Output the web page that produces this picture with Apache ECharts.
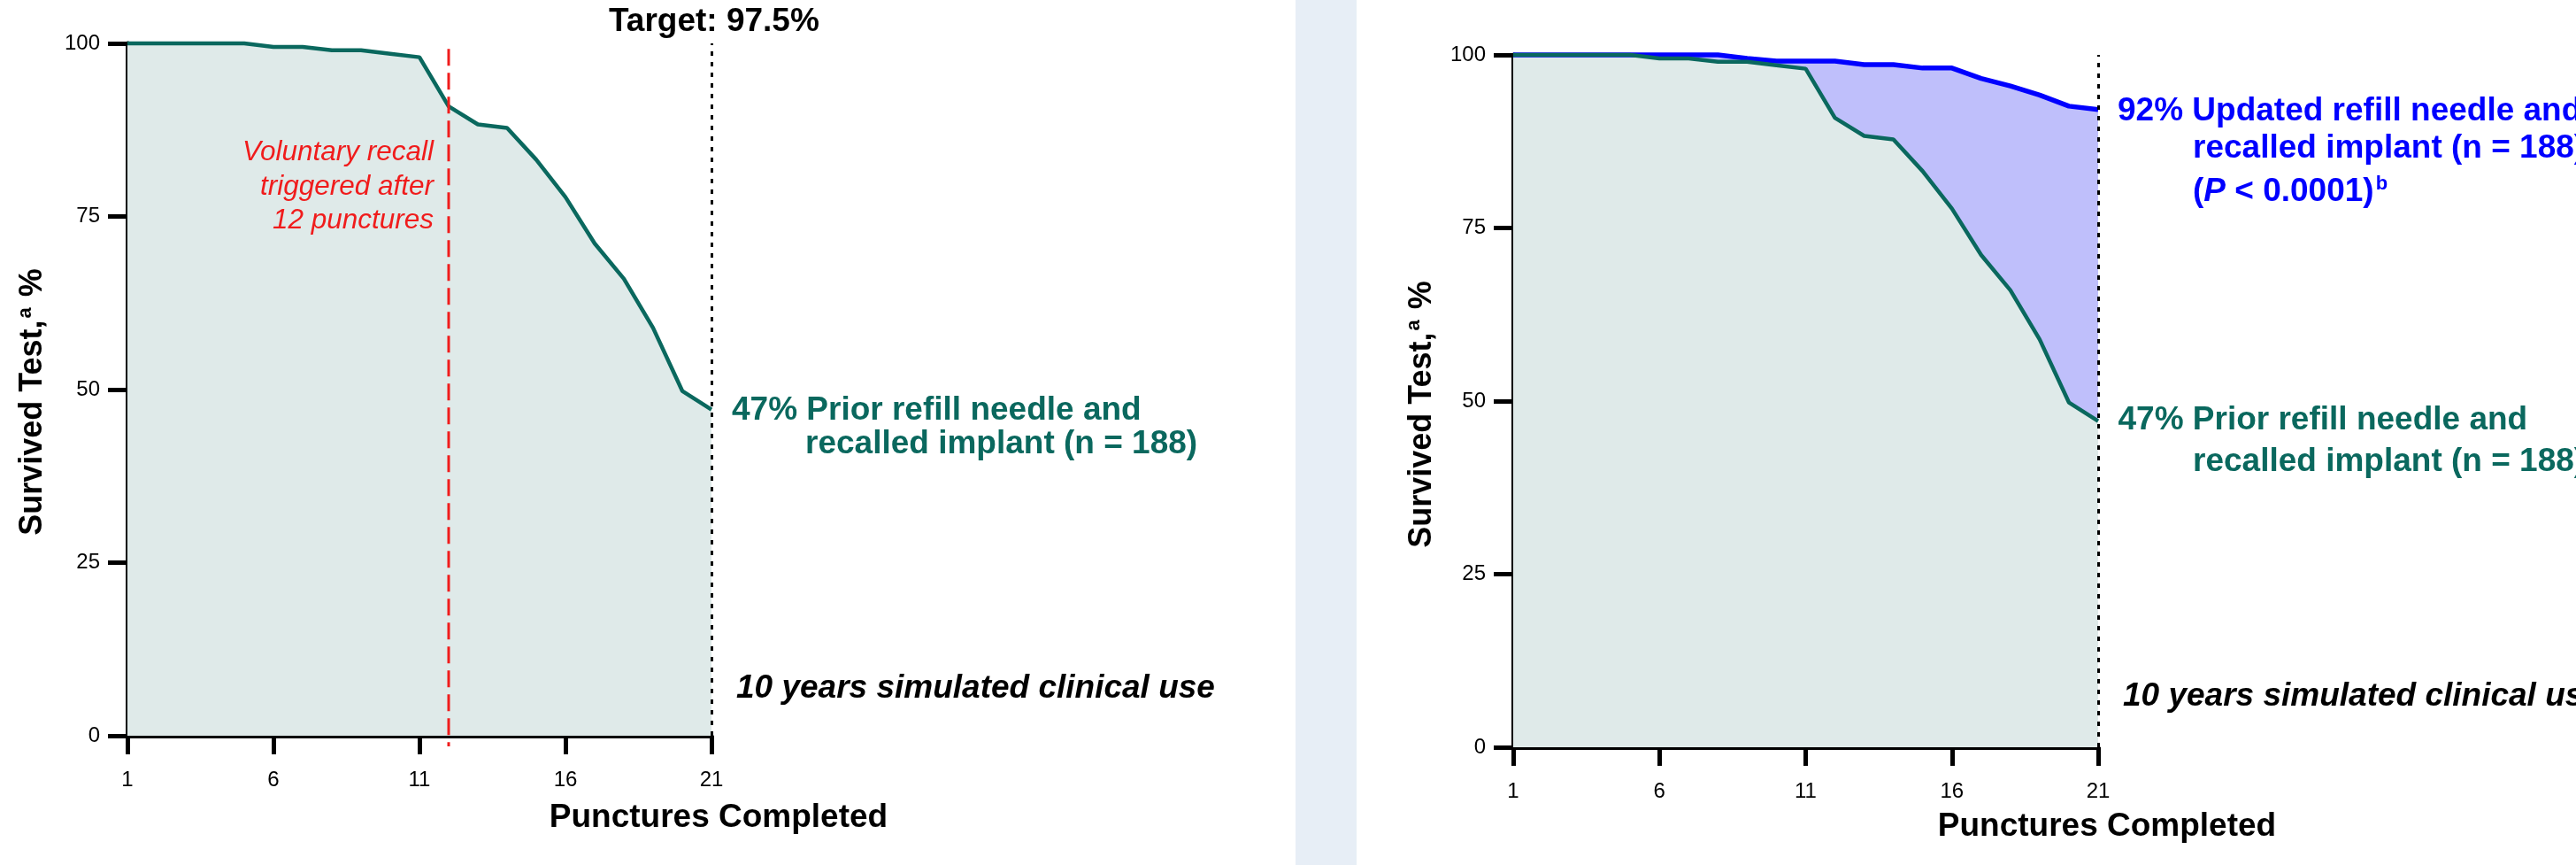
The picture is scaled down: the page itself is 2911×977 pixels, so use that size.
<!DOCTYPE html>
<html>
<head>
<meta charset="utf-8">
<script src="https://cdn.jsdelivr.net/npm/echarts@6.0.0/dist/echarts.min.js"></script>
<style>
html,body{margin:0;padding:0;background:#ffffff;}
#chart{width:2911px;height:977px;}
</style>
</head>
<body>
<div id="chart"></div>
<script>
// ---------------- data ----------------
const punctures = [1,2,3,4,5,6,7,8,9,10,11,12,13,14,15,16,17,18,19,20,21];
const priorSurvival = [100,100,100,100,100,99.5,99.5,99,99,98.5,98,90.9,88.3,87.8,83.2,77.8,71.1,66,58.9,49.8,47.1];
const updatedSurvival = [100,100,100,100,100,100,100,100,99.5,99.1,99.1,99.1,98.6,98.6,98.1,98.1,96.6,95.5,94.2,92.6,92.1];
const xTickValues = [1,6,11,16,21];
const yTickValues = [0,25,50,75,100];
const recallAfter = 12;
const targetText = 'Target: 97.5%';
const xTitle = 'Punctures Completed';
const priorLine1 = '47% Prior refill needle and';
const priorLine2 = 'recalled implant (n = 188)';
const updatedLine1 = '92% Updated refill needle and';
const updatedLine2 = 'recalled implant (n = 188)';
const simText = '10 years simulated clinical use';
const recallText = 'Voluntary recall\ntriggered after\n12 punctures';

// ---------------- styles ----------------
const FONT = "'Liberation Sans', Arial, Helvetica, sans-serif";
const TEAL = '#0a685e';
const TEAL_FILL = '#dfeae9';
const BLUE = '#0000ff';
const BLUE_FILL = '#bfbffb';
const RED = '#f01c1c';

const pairs = arr => punctures.map((p, i) => [p, arr[i]]);

function xAxisDef(gi) {
  return {
    type: 'value', gridIndex: gi,
    min: xTickValues[0], max: xTickValues[xTickValues.length - 1],
    interval: xTickValues[1] - xTickValues[0],
    axisLine: {show: true, onZero: false, lineStyle: {color: '#000', width: 5}},
    axisTick: {show: true, length: 21, lineStyle: {color: '#000', width: 5}},
    axisLabel: {show: true, margin: 38, color: '#000', fontSize: 24, fontFamily: FONT},
    splitLine: {show: false}
  };
}
function yAxisDef(gi) {
  return {
    type: 'value', gridIndex: gi,
    min: yTickValues[0], max: yTickValues[yTickValues.length - 1],
    interval: yTickValues[1] - yTickValues[0],
    axisLine: {show: true, onZero: false, lineStyle: {color: '#000', width: 5}},
    axisTick: {show: true, length: 22, lineStyle: {color: '#000', width: 5}},
    axisLabel: {show: true, margin: 31, color: '#000', fontSize: 24, fontFamily: FONT},
    splitLine: {show: false}
  };
}
function lineSeries(gi, arr, color, fill, width, extra) {
  return Object.assign({
    type: 'line', xAxisIndex: gi, yAxisIndex: gi,
    data: pairs(arr), symbol: 'none', showSymbol: false,
    lineStyle: {color: color, width: width},
    itemStyle: {color: color},
    areaStyle: {color: fill, opacity: 1},
    silent: true, animation: false, clip: false,
    emphasis: {disabled: true}
  }, extra || {});
}
const dottedStyle = {color: '#000', type: [5, 7], width: 3};
function dottedEnd() {
  return {
    silent: true, symbol: ['none', 'none'], label: {show: false}, animation: false,
    emphasis: {disabled: true},
    data: [{xAxis: xTickValues[xTickValues.length - 1], lineStyle: dottedStyle}]
  };
}

function txt(x, y, text, opts) {
  const o = opts || {};
  return {
    type: 'text', x: x, y: y, rotation: o.rotation || 0, z: 10, silent: true,
    style: Object.assign({
      text: text,
      fill: o.color || '#000',
      fontFamily: FONT,
      fontSize: o.size || 37,
      fontWeight: o.weight || 'bold',
      fontStyle: o.style || 'normal',
      align: o.align || 'left',
      verticalAlign: 'middle',
      lineHeight: o.lineHeight
    }, o.rich ? {rich: o.rich} : {})
  };
}

const yTitleText = '{m|Survived Test,}{s|a}{m| %}';
const yTitleRich = {
  m: {fontFamily: FONT, fontSize: 36, fontWeight: 'bold', fill: '#000', color: '#000', lineHeight: 40},
  s: {fontFamily: FONT, fontSize: 22, fontWeight: 'bold', fill: '#000', color: '#000', lineHeight: 22, verticalAlign: 'top', padding: [0, 2, 0, 2]}
};
const pRich = {
  n: {fontFamily: FONT, fontSize: 37, fontWeight: 'bold', fill: BLUE, color: BLUE, lineHeight: 40},
  i: {fontFamily: FONT, fontSize: 37, fontWeight: 'bold', fontStyle: 'italic', fill: BLUE, color: BLUE, lineHeight: 40},
  s: {fontFamily: FONT, fontSize: 22, fontWeight: 'bold', fill: BLUE, color: BLUE, lineHeight: 22, verticalAlign: 'top', padding: [0, 0, 0, 2]}
};

const chart = echarts.init(document.getElementById('chart'), null, {renderer: 'canvas', width: 2911, height: 977});
chart.setOption({
  animation: false,
  backgroundColor: '#ffffff',
  grid: [
    {left: 144, top: 49, width: 660, height: 782, containLabel: false, outerBoundsMode: 'none'},
    {left: 1710, top: 62, width: 661, height: 782, containLabel: false, outerBoundsMode: 'none'}
  ],
  xAxis: [xAxisDef(0), xAxisDef(1)],
  yAxis: [yAxisDef(0), yAxisDef(1)],
  series: [
    lineSeries(0, priorSurvival, TEAL, TEAL_FILL, 4.5, {markLine: dottedEnd()}),
    {
      type: 'custom', xAxisIndex: 0, yAxisIndex: 0, silent: true, clip: false, z: 4,
      animation: false,
      data: [[recallAfter, 99.2, 0]],
      encode: {x: 0, y: [1, 2]},
      renderItem: function (params, api) {
        const x = api.value(0);
        const top = api.coord([x, api.value(1)]);
        const bottom = api.coord([x, api.value(2)]);
        return {
          type: 'line',
          shape: {x1: top[0], y1: top[1], x2: bottom[0], y2: bottom[1] + 12},
          style: {stroke: RED, lineWidth: 3, lineDash: [19, 8], fill: null}
        };
      }
    },
    lineSeries(1, updatedSurvival, BLUE, BLUE_FILL, 5.5),
    lineSeries(1, priorSurvival, TEAL, TEAL_FILL, 4.5, {markLine: dottedEnd()})
  ],
  graphic: {
    elements: [
      {type: 'rect', left: 1464, top: 0, shape: {x: 0, y: 0, width: 69, height: 977}, style: {fill: '#e7eef6'}, z: -10, silent: true},
      // left panel
      txt(688, 24.5, targetText),
      txt(490, 211, recallText, {color: RED, size: 31.5, weight: 'normal', style: 'italic', align: 'right', lineHeight: 38.5}),
      txt(827, 464, priorLine1, {color: TEAL}),
      txt(910, 502, priorLine2, {color: TEAL}),
      txt(832, 777.5, simText, {style: 'italic'}),
      txt(812, 924, xTitle, {align: 'center'}),
      txt(37.5, 454, yTitleText, {align: 'center', rotation: Math.PI / 2, rich: yTitleRich}),
      // right panel
      txt(2393, 125.5, updatedLine1, {color: BLUE}),
      txt(2478, 168, updatedLine2, {color: BLUE}),
      txt(2478, 217, '{n|(}{i|P}{n| < 0.0001)}{s|b}', {color: BLUE, rich: pRich}),
      txt(2393.5, 475, priorLine1, {color: TEAL}),
      txt(2478, 522, priorLine2, {color: TEAL}),
      txt(2399, 787, simText, {style: 'italic'}),
      txt(2381, 934, xTitle, {align: 'center'}),
      txt(1607, 468, yTitleText, {align: 'center', rotation: Math.PI / 2, rich: yTitleRich})
    ]
  }
});
</script>
</body>
</html>
